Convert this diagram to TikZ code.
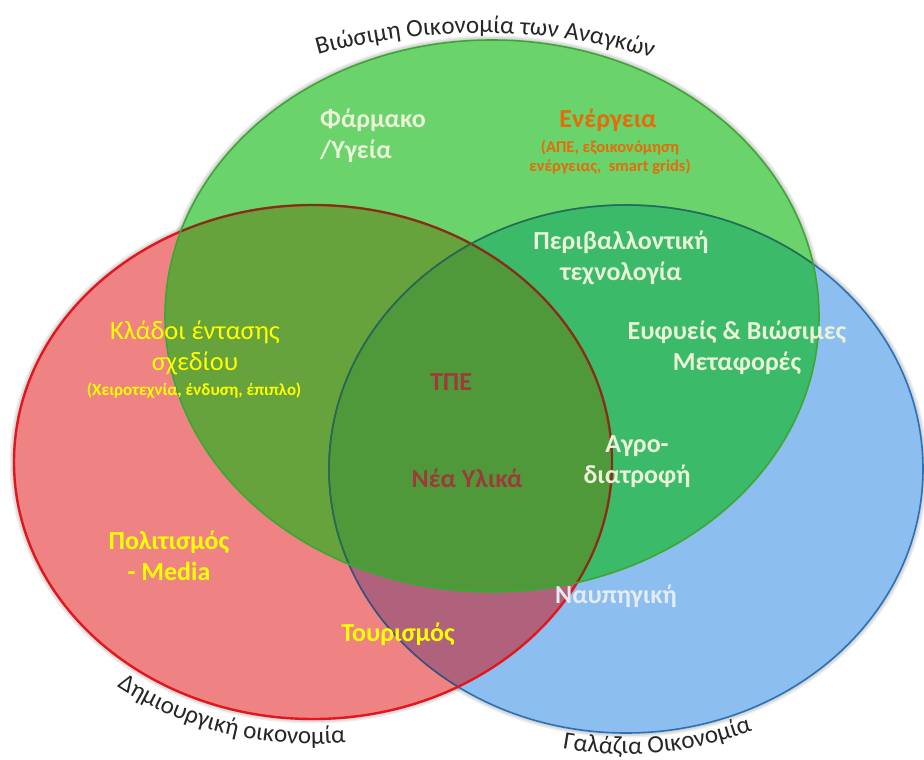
\documentclass[tikz,border=0pt]{standalone}
\usepackage{fontspec}
\setmainfont{Carlito}
\usetikzlibrary{decorations.text}

% region fills
\definecolor{redfill}{HTML}{EF8383}
\definecolor{greenfill}{HTML}{6BD36B}
\definecolor{bluefill}{HTML}{8CBEEF}
\definecolor{rgfill}{HTML}{66A33C}
\definecolor{rbfill}{HTML}{B0617B}
\definecolor{gbfill}{HTML}{3BBA6A}
\definecolor{rgbfill}{HTML}{4F993B}
% outlines
\definecolor{redline}{HTML}{E4161C}
\definecolor{greenline}{HTML}{3DA634}
\definecolor{blueline}{HTML}{2A72B8}
% label colours
\definecolor{lightlbl}{HTML}{EAF3D8}
\definecolor{bluelbl}{HTML}{E3ECF4}
\definecolor{orangelbl}{HTML}{E46C0A}
\definecolor{yellowlbl}{HTML}{FFFF00}
\definecolor{darkredlbl}{HTML}{9E3A3A}
\definecolor{curvetext}{HTML}{262626}

% the three sets
\def\redE{(313,462) ellipse [x radius=299, y radius=257]}
\def\blueE{(626,469) ellipse [x radius=297, y radius=264]}
\def\greenE{(492,316) ellipse [x radius=327, y radius=276]}

\begin{document}
\begin{tikzpicture}[x=1pt, y=-1pt,
  lbl/.style={inner sep=0pt, align=center, font=\bfseries\fontsize{26}{31}\selectfont},
  sublbl/.style={inner sep=0pt, align=center, font=\bfseries\fontsize{16.5}{19}\selectfont},
  halo/.style={draw=black, line width=#1, opacity=0.07},
  curvelbl/.style={decorate, decoration={text along path, text align=center,
      text color=curvetext, text={|\fontsize{25}{30}\selectfont|#1}}}]

\useasboundingbox (0,0) rectangle (924,760);
\fill[white] (0,0) rectangle (924,760);

% soft shadow around each set
\foreach \w in {9,6,3}{
  \draw[halo=\w pt] \redE;
  \draw[halo=\w pt] \blueE;
  \draw[halo=\w pt] \greenE;
}

% single-set areas
\fill[redfill] \redE;
\fill[bluefill] \blueE;
\fill[greenfill] \greenE;

% pairwise overlaps
\begin{scope}
  \clip \redE;
  \fill[rbfill] \blueE;
\end{scope}
\begin{scope}
  \clip \redE;
  \fill[rgfill] \greenE;
\end{scope}
\begin{scope}
  \clip \blueE;
  \fill[gbfill] \greenE;
\end{scope}
% centre overlap
\begin{scope}
  \clip \redE;
  \clip \blueE;
  \fill[rgbfill] \greenE;
\end{scope}

% outlines
\draw[blueline, line width=1.6pt] \blueE;
\begin{scope}
  \clip \redE;
  \draw[draw=blueline!55!rbfill!70!black, line width=1.4pt] \blueE;
\end{scope}
\draw[redline, line width=2.4pt] \redE;
\begin{scope}
  \clip \greenE;
  \draw[draw=rgfill!65!red!60!black, line width=1.6pt] \redE;
  \draw[draw=gbfill!60!black, line width=1.4pt] \blueE;
\end{scope}
\draw[greenline, line width=1.6pt] \greenE;

% set titles along the outlines
\path[curvelbl={Βιώσιμη Οικονομία των Αναγκών}]
  ([shift={(-113:607)}]480,640) arc[start angle=-113, end angle=-66, radius=607];
\path[curvelbl={Δημιουργική οικονομία}]
  ([shift={(138:324 and 282)}]313,462) arc[start angle=138, end angle=74, x radius=324, y radius=282];
\path[curvelbl={Γαλάζια Οικονομία}]
  ([shift={(110:320 and 285)}]626,469) arc[start angle=110, end angle=58, x radius=320, y radius=285];

% sector labels
\node[lbl, text=lightlbl, align=left, anchor=west] (pharma) at (320,136) {Φάρμακο\\/Υγεία};
\node[lbl, text=orangelbl] (energy) at (608,120) {Ενέργεια};
\node[sublbl, text=orangelbl] (energysub) at (610,157) {(ΑΠΕ, εξοικονόμηση\\ενέργειας,\ \ smart grids)};
\node[lbl, text=lightlbl] (envtech) at (621,258) {Περιβαλλοντική\\τεχνολογία};
\node[lbl, font=\fontsize{26.5}{31}\selectfont, text=yellowlbl] (design) at (195,348) {Κλάδοι έντασης\\σχεδίου};
\node[sublbl, font=\bfseries\fontsize{17}{19}\selectfont, text=yellowlbl] (designsub) at (194,391) {(Χειροτεχνία, ένδυση, έπιπλο)};
\node[lbl, text=lightlbl] (transport) at (737,348) {Ευφυείς \& Βιώσιμες\\Μεταφορές};
\node[lbl, text=darkredlbl] (ict) at (451,382) {ΤΠΕ};
\node[lbl, text=darkredlbl] (materials) at (467,478) {Νέα Υλικά};
\node[lbl, text=lightlbl] (agro) at (637,462) {Αγρο-\\διατροφή};
\node[lbl, text=yellowlbl] (culture) at (169,556) {Πολιτισμός\\- Media};
\node[lbl, text=yellowlbl] (tourism) at (398,634) {Τουρισμός};
\node[lbl, text=bluelbl] (shipbuilding) at (616,596) {Ναυπηγική};

\end{tikzpicture}
\end{document}
